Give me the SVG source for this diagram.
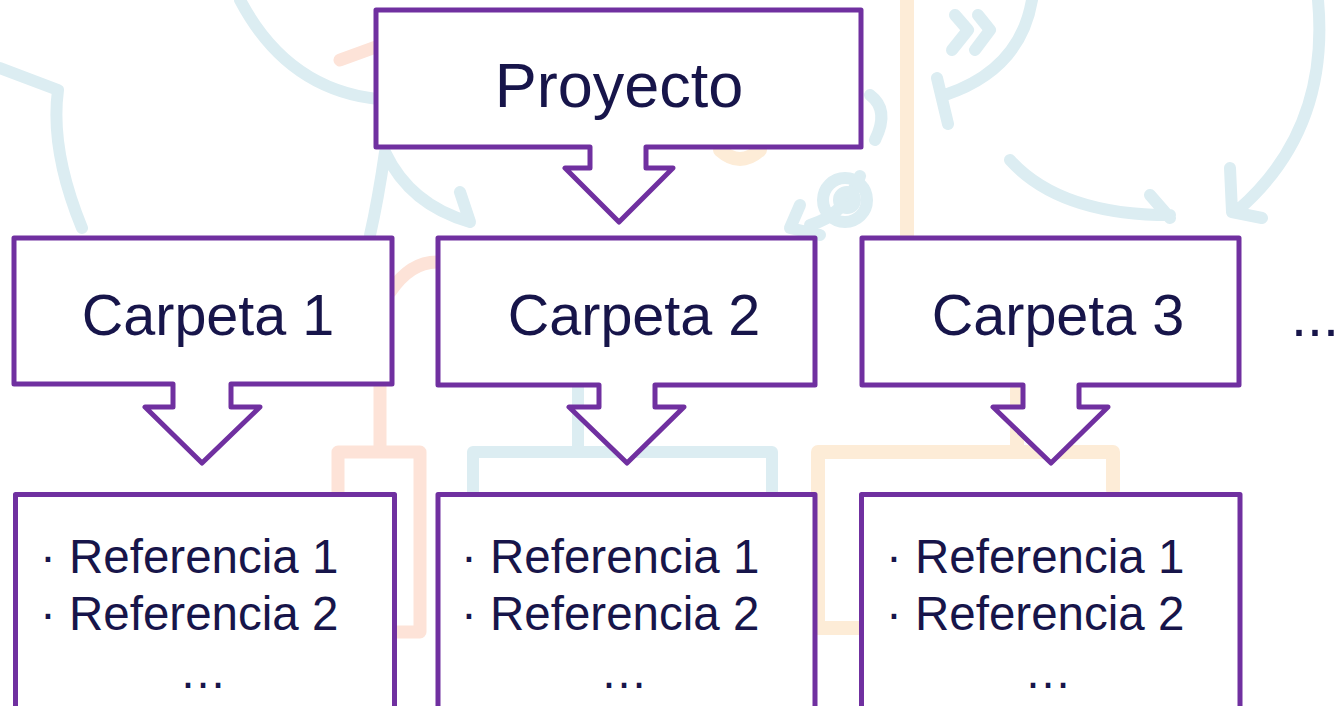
<svg xmlns="http://www.w3.org/2000/svg" width="1340" height="706" viewBox="0 0 1340 706">
<style>
.bg{fill:none;stroke-linecap:round;stroke-linejoin:round}
.b{stroke:#dcedf2;stroke-width:12}
.p{stroke:#fde3d8;stroke-width:13}
.o{stroke:#fdecd7;stroke-width:14}
.node{fill:#ffffff;stroke:#7030a0;stroke-width:5;stroke-linejoin:round}
.t{font-family:"Liberation Sans",Arial,sans-serif;fill:#17154a}
.big{font-size:57.5px}
.top{font-size:63px}
.ref{font-size:47.5px}
</style>
<rect width="1340" height="706" fill="#ffffff"/>
<g id="watermark">
<path class="bg b" d="M0,68 L58,90 Q50,150 82,228"/>
<path class="bg b" d="M240,0 Q290,95 390,100"/>
<path class="bg b" d="M385,152 Q410,205 470,222 M460,192 L470,222 M385,152 Q378,200 370,235"/>
<path class="bg b" d="M1318,0 Q1330,130 1238,210 M1230,168 L1232,212 L1262,218"/>
<path class="bg b" d="M1010,160 Q1060,215 1170,215 M1150,195 L1170,218"/>
<path class="bg b" d="M1032,0 Q1020,70 945,95 M937,78 L948,124"/>
<path class="bg b" d="M955,15 L968,30 L952,50 M978,15 L990,30 L975,50"/>
<path class="bg b" d="M870,95 Q890,110 875,140"/>
<path class="bg b" d="M860,176 Q845,215 810,225 M820,235 L790,228 L800,205"/>
<circle class="bg b" cx="845" cy="200" r="22" stroke-width="6"/>
<circle class="bg b" cx="847" cy="200" r="8" stroke-width="5"/>
<path class="bg b" d="M578,387 V452 M473,452 H772 V495 M473,452 V495"/>
<path class="bg o" d="M907,0 V237"/>
<path class="bg o" d="M1017,388 V450 M818,452 H1113 V490 M818,452 V628 H861"/>
<path class="bg o" d="M720,150 Q740,168 760,150"/>
<path class="bg p" d="M340,60 L395,40"/>
<path class="bg p" d="M390,292 Q410,262 437,262 M380,385 V452 M338,452 H420 V632 H396 M338,452 V495"/>
</g>
<g id="connectors"></g>
<g id="proyecto">
<path class="node" d="M376,10 H861 V147 H646 V168 H673 L619,222 L565,168 H590 V147 H376 Z"/>
<text class="t top" x="619" y="107" text-anchor="middle">Proyecto</text>
</g>
<g id="carpeta1">
<path class="node" d="M14,238 H392 V384 H231 V407 H260 L202,463 L145,407 H173 V384 H14 Z"/>
<text class="t big" x="208" y="335" text-anchor="middle">Carpeta 1</text>
</g>
<g id="carpeta2">
<path class="node" d="M438,238 H815 V385 H655 V407 H684 L627,463 L569,407 H599 V385 H438 Z"/>
<text class="t big" x="634" y="335" text-anchor="middle">Carpeta 2</text>
</g>
<g id="carpeta3">
<path class="node" d="M862,238 H1239 V385 H1079 V407 H1108 L1051,463 L993,407 H1023 V385 H862 Z"/>
<text class="t big" x="1058" y="335" text-anchor="middle">Carpeta 3</text>
</g>
<g id="more">
<text class="t big" x="1291" y="336">...</text>
</g>
<g id="refs1">
<rect class="node" x="15.5" y="494.5" width="379" height="240"/>
<text class="t ref" x="40" y="573">· Referencia 1</text>
<text class="t ref" x="40" y="630">· Referencia 2</text>
<text class="t ref" x="203" y="688" text-anchor="middle">…</text>
</g>
<g id="refs2">
<rect class="node" x="438" y="494.5" width="377" height="240"/>
<text class="t ref" x="461" y="573">· Referencia 1</text>
<text class="t ref" x="461" y="630">· Referencia 2</text>
<text class="t ref" x="624" y="688" text-anchor="middle">…</text>
</g>
<g id="refs3">
<rect class="node" x="861.5" y="494.5" width="378.5" height="240"/>
<text class="t ref" x="886" y="573">· Referencia 1</text>
<text class="t ref" x="886" y="630">· Referencia 2</text>
<text class="t ref" x="1048" y="688" text-anchor="middle">…</text>
</g>
</svg>
